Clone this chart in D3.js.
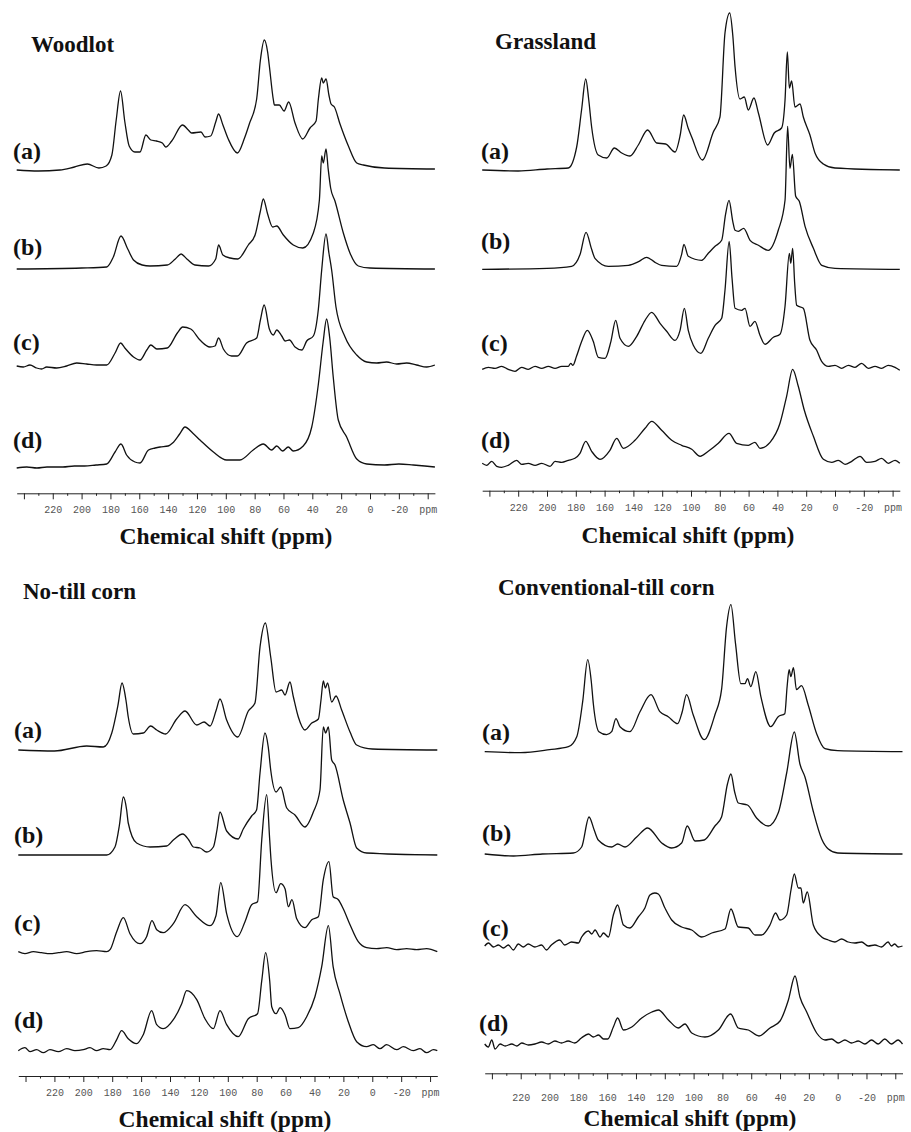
<!DOCTYPE html>
<html>
<head>
<meta charset="utf-8">
<script src="https://cdn.jsdelivr.net/npm/d3@7"></script>
<style>
  body { margin: 0; background: #fff; }
  svg { display: block; }
  .title, .lab, .xtitle { font-family: "Liberation Serif", "Times New Roman", serif; font-weight: bold; fill: #111; }
  .axis text { font-family: "Liberation Mono", "Courier New", monospace; font-size: 10px; fill: #555; }
  .axis path, .axis line { stroke: #222; }
</style>
</head>
<body>
<script>
// panel titles and trace labels
const panelTitles = ["Woodlot", "Grassland", "No-till corn", "Conventional-till corn"];
const traceLabels = ["(a)", "(b)", "(c)", "(d)"];
const axisTitle = "Chemical shift (ppm)";

// ppm ticks
const majorTicks = [240, 220, 200, 180, 160, 140, 120, 100, 80, 60, 40, 20, 0, -20, -40];
const minorTicks = [230, 210, 190, 170, 150, 130, 110, 90, 70, 50, 30, 10, -10, -30];
const tickLabels = ["", "220", "200", "180", "160", "140", "120", "100", "80", "60", "40", "20", "0", "-20", "ppm"];

// spectra, [ppm, intensity]
const woodlotA = [[245,0],[230,-1],[215,0],[205,3],[196,6],[188,2],[183,4],[179,15],[176,50],[173,79],[170,48],[167,24],[163,18],[159.5,18],[155.4,35],[152,30],[148,29],[144,27],[141.7,23],[137.5,29],[130,45],[126,40],[123.7,37],[117.2,38],[114.4,33],[110.5,34],[107,48],[105,56],[102,45],[98.3,31],[92,17],[87,32],[83.7,46],[78.6,71],[76,110],[73.3,130],[71,118],[69.8,104],[67,70],[66.3,65],[62.9,65],[59.6,59],[56.4,68],[52,47],[46.6,31],[41.6,42],[37.4,49],[35.8,71],[33.5,92],[32.4,87],[30.5,91],[28.5,75],[27,66],[24.7,63],[20.8,46],[15,24],[9.2,7],[4.6,5],[-10,2],[-45,1]];
const woodlotB = [[245,0],[200,1],[182.6,2],[178,12],[172.7,33],[168,20],[164,9],[158,4],[152.6,3],[140.6,4],[135,10],[131,15],[127,10],[121.4,4],[112,3],[107,10],[105,24],[102,14],[97,11],[91.7,10],[84.4,24],[79.7,34],[76,58],[74,70],[71,55],[67.5,42],[64.7,43],[60.1,34],[53.2,24],[46.6,21],[39.3,36],[35.1,69],[33.5,113],[32.4,106],[30.5,120],[29,100],[27.3,81],[24.3,68],[18.5,36],[13.9,16],[8.1,3],[0,1],[-45,0]];
const woodlotC = [[245,-1],[240.4,-2],[235.8,0],[231.2,-3],[227.7,-4],[224.2,-2],[217.3,-3],[210.4,-1],[203.4,2],[196.5,1],[189.6,0],[182.6,0],[176.8,12],[172.9,22],[170,17],[164,8],[159.5,5],[154.8,15],[152,20],[147.8,16],[140.6,17],[133.6,32],[129.9,38],[124.3,36],[117.9,25],[111,18],[107.5,19],[105,27],[101.7,16],[96,9],[92,9],[85.6,22],[78.6,27],[76,45],[73.4,60],[69.8,36],[67,30],[64.7,35],[61.2,29],[58.9,24],[55.9,25],[52,18],[47.3,15],[43.9,24],[39.3,29],[35.8,56],[33.5,95],[30.5,131],[28.5,112],[26.6,95],[23.6,58],[17.3,28],[9.2,10],[2.3,3],[-4.6,2],[-11.5,3],[-18.5,1],[-25.4,2],[-32.3,0],[-39.3,-2],[-45,0]];
const woodlotD = [[245,-1],[238,0],[231,-1],[224,0],[213,0],[205,1],[198,1],[190,2],[182.6,3],[176.8,15],[172.7,23],[168.8,12],[163,5],[159.5,4],[153.6,17],[149,19],[145.6,20],[140,21],[136.9,24],[132,33],[128.3,40],[123,34],[117.9,27],[108.6,15],[99.4,7],[90.2,7],[81,17],[74,23],[68.2,17],[64.7,21],[60.6,16],[56.7,20],[53.2,16],[46.3,21],[40.4,40],[35.8,83],[32.5,125],[30.1,148],[28,130],[25.5,90],[22,47],[16.2,30],[9.2,8],[2.3,3],[-10,2],[-20,3],[-30,2],[-38,1],[-45,0]];

const grassA = [[245,0],[220,-1],[200,1],[185.2,2],[179.4,23],[176,60],[173.1,91],[171,70],[169,43],[164.4,15],[158.5,12],[153.2,22],[148.1,17],[142.4,14],[136.6,25],[130.1,40],[123.8,27],[117.6,26],[111.1,18],[107.5,35],[105.1,55],[102,42],[99.5,33],[92.1,10],[84.5,38],[79.9,53],[76.4,137],[73.1,157],[71,135],[69.4,103],[66,71],[63,73],[60.2,60],[56.3,72],[53.2,57],[46.8,25],[42.2,37],[37.1,42],[34.7,70],[33.1,118],[31.7,82],[30.1,89],[27.8,63],[24.3,66],[22,53],[17.4,35],[13.9,17],[8.1,6],[0,2],[-45,0]];
const grassB = [[245,0],[200,1],[182.9,3],[177,15],[172.9,37],[169,20],[166.7,11],[157.4,3],[143.5,4],[136,8],[130.8,12],[125,7],[120.4,4],[110,3],[106.5,15],[104.9,25],[101.9,13],[92.6,9],[88,16],[83.3,23],[78.7,29],[76,55],[73.6,69],[71,48],[69.4,39],[67.1,38],[63.4,41],[59,29],[53.2,24],[46.3,19],[39.4,39],[34.7,69],[32.9,143],[31.3,101],[29.6,115],[27.3,73],[24.8,68],[20.8,43],[15,21],[9.2,4],[0,1],[-45,0]];
const grassC = [[245,-1],[240.7,1],[236.1,0],[231.5,2],[226.9,-1],[222.2,-3],[217.6,1],[213,-1],[208.3,2],[203.7,0],[199.1,2],[194.4,0],[189.8,2],[185.2,2],[183.5,5],[182,3],[179.5,12],[175.9,27],[172,38],[167.9,27],[164.4,11],[159.7,10],[155.6,27],[152.3,48],[149.3,30],[143.5,22],[137.7,32],[131.9,48],[127.3,56],[121.5,45],[116.9,37],[111.1,28],[107.6,38],[104.6,60],[101.9,38],[98.4,23],[93.1,15],[88,30],[83.3,43],[78.7,50],[76.4,78],[73.5,127],[71.5,90],[69.4,60],[64.8,58],[62.5,60],[59,42],[55.6,47],[52.1,33],[48.6,24],[42.8,31],[38.2,34],[34.7,62],[31.7,115],[30.7,105],[29.4,120],[28,85],[26.6,63],[22,60],[17.4,28],[12.7,18],[9.3,7],[4.6,2],[0,3],[-4.6,0],[-9.3,3],[-13.9,1],[-18.5,5],[-23.1,0],[-27.8,2],[-32.4,0],[-37,3],[-41.7,1],[-45,-2]];
const grassD = [[245,0],[241.9,-2],[238.4,2],[234.9,-3],[231.5,-4],[226.9,-2],[221.1,3],[217.6,-1],[213,0],[208.3,-2],[203.7,0],[197.9,-3],[194.4,2],[189.8,1],[185.2,3],[180.6,5],[177.1,10],[173.1,22],[169,12],[163.2,4],[156.3,13],[151.6,25],[147,15],[138.9,23],[131.9,35],[127.3,42],[120.4,33],[113.4,23],[106.5,18],[99.5,14],[93.7,7],[88,12],[81,20],[73.6,30],[68.3,20],[60.2,18],[55.6,21],[52.1,15],[45.1,21],[38.2,40],[33.6,67],[29.4,94],[25.5,77],[21.3,53],[15,27],[8.1,4],[2.3,1],[-2.3,3],[-7,-1],[-11.6,2],[-17.4,7],[-22,1],[-27.8,2],[-32.4,5],[-37,0],[-41.7,3],[-45,0]];

const notillA = [[245,0],[220,-1],[197.7,4],[186.2,3],[180.3,17],[176,45],[173.2,67],[170.5,50],[168.9,33],[165.4,16],[158.5,17],[153.4,24],[149.2,20],[143,16],[135.4,31],[129.6,39],[121.5,25],[116.4,28],[112.3,24],[108,40],[105.4,51],[100.8,30],[93.1,13],[85.8,39],[81.2,47],[77.7,103],[74,127],[70.3,93],[66.6,58],[62.7,60],[60.4,55],[57,68],[54.6,53],[51.2,33],[46.6,20],[41.9,27],[37.3,31],[35.5,50],[33.9,69],[32.5,62],[30.9,67],[28.1,48],[25.1,54],[21.2,40],[15.4,18],[10.8,5],[0,1],[-45,0]];
const notillB = [[245,0],[211.6,0],[183.8,0],[178.1,8],[175,30],[172.3,58],[170,45],[168.9,32],[163.1,12],[153.8,8],[142.3,9],[137.7,15],[131.2,21],[127,15],[123.9,8],[119.2,7],[114.6,3],[110,8],[107.5,25],[105.4,43],[100.8,24],[92.8,16],[89.3,26],[83.5,39],[80.1,45],[77.7,82],[74.3,122],[72,108],[70.3,85],[66.6,63],[63.4,68],[59.2,47],[53.5,40],[46.6,28],[40.8,43],[36.2,65],[33.9,128],[32.3,122],[30.4,128],[28.1,95],[25.8,90],[20.1,55],[15.4,32],[10.8,7],[3.9,2],[-45,0]];
const notillC = [[245,0],[240.4,-2],[234.6,0],[228.9,-1],[223.1,-2],[217.3,-1],[211.5,0],[204.6,-2],[197.7,0],[190.8,1],[183.8,0],[181.5,2],[176.9,20],[172.3,34],[167.7,18],[160.8,8],[156.2,15],[152.5,31],[149.2,22],[144.7,19],[137.7,28],[129.6,47],[121.5,35],[112.3,26],[108.2,36],[104.9,69],[100.8,38],[93.4,15],[88.1,30],[83.5,47],[79.4,50],[76.5,112],[73.1,157],[71,112],[70.1,92],[66.6,59],[63.4,68],[60.4,63],[58.1,45],[55.6,52],[52.3,33],[46.6,24],[41.9,32],[37.3,35],[33.9,72],[30,90],[27.1,55],[23.5,52],[20.1,43],[15.4,27],[9.7,10],[3.9,4],[-3,3],[-10,4],[-16.9,2],[-23.8,3],[-30.7,2],[-37.6,3],[-45,0]];
const notillD = [[245,0],[240.4,3],[236.9,-1],[232.3,1],[227.7,-2],[223.1,1],[217.3,-1],[211.5,2],[205.8,0],[200,1],[195.4,3],[190.8,0],[186.2,2],[181.5,1],[176.9,11],[173.5,20],[168.9,12],[163.1,7],[158.5,16],[152.7,40],[149.2,26],[144.7,22],[137.7,31],[131.9,47],[128.5,60],[121.5,51],[115.8,32],[110,22],[105.4,40],[100.8,26],[92.8,14],[85.8,32],[79.4,37],[76.5,70],[73.8,98],[71,70],[69.6,44],[66.6,37],[63.8,43],[60.4,36],[57,22],[51.2,23],[45.4,34],[39.7,54],[35,84],[30.4,125],[27.1,84],[22.4,57],[16.6,29],[10.8,9],[3.9,4],[-0.7,6],[-5.3,2],[-9.9,6],[-16.9,1],[-21.5,4],[-28.4,0],[-33,2],[-37.6,-2],[-42.3,1],[-45,0]];

const convA = [[245,0],[220,-1],[200,2],[186.9,5],[181.1,15],[177,50],[173.5,92],[171,70],[169.6,48],[165.7,20],[160.3,17],[156.9,20],[153.9,33],[151.1,25],[144.2,20],[137.2,40],[129.6,57],[123.4,40],[117.6,35],[111.1,28],[107.9,40],[104.9,57],[100.3,37],[92.6,12],[85.2,37],[80.6,62],[77.1,125],[74.1,147],[70.9,108],[67.2,68],[64.4,68],[62.6,73],[60.3,65],[56.8,80],[53.3,55],[46.4,25],[41.3,35],[36.7,38],[35.1,65],[33.7,82],[32.5,75],[30.7,84],[28.6,62],[25.1,66],[20.5,47],[14.6,18],[8.8,3],[0,1],[-45,0]];
const convB = [[245,0],[225,-2],[205,0],[183.5,1],[177.7,7],[172.6,37],[169,24],[166.2,14],[156.9,7],[152.7,10],[147.6,7],[139.5,17],[131.9,26],[122.1,11],[115.2,6],[108.3,11],[104.4,28],[99,13],[92.6,14],[85.2,28],[80.6,37],[76.5,70],[74.1,80],[71.5,62],[69,51],[62.6,49],[56.3,36],[48.2,28],[41.3,41],[35.4,81],[30.1,122],[26.2,90],[22.7,77],[17,43],[11.1,15],[6.5,5],[0,1],[-45,0]];
const convC = [[245,0],[242.4,3],[238.9,-1],[235.5,1],[232,-2],[228.6,1],[225.1,-4],[221.7,2],[218.2,-1],[214.8,2],[210.2,-1],[205.5,1],[202.1,-4],[198.7,1],[192.9,6],[189.5,1],[184.7,4],[180,3],[177.7,9],[173,15],[170.7,12],[168.4,16],[164.9,9],[162.6,13],[159.1,9],[155.7,31],[152.7,41],[148.7,21],[144.2,18],[138.4,29],[133.8,38],[130.3,51],[126.9,53],[124.5,52],[119.9,38],[115.2,26],[108.3,19],[101.3,16],[94.4,9],[87.4,13],[78.2,17],[74.1,37],[69,19],[62,18],[57.4,11],[52.8,11],[47,21],[43.1,33],[40,26],[35.4,31],[32.4,56],[30.1,72],[27.3,58],[25.5,58],[23.9,43],[21.1,54],[16.9,21],[11.1,9],[6.5,6],[1.9,4],[-2.7,7],[-7.3,4],[-12,3],[-16.6,4],[-21.2,0],[-25.8,1],[-30.4,-1],[-35,4],[-37.3,0],[-39.6,2],[-42,-1],[-45,0]];
const convD = [[245,0],[242.5,-3],[240.1,4],[237.8,-5],[234.3,0],[230.8,-2],[226.2,0],[222.7,-2],[219.3,1],[214.7,-1],[210.1,0],[205.5,2],[200.9,0],[196.3,3],[191.7,1],[187.1,3],[182.5,1],[177.9,6],[173,10],[169.6,7],[166,9],[162.5,5],[159.6,5],[155.7,17],[152.7,26],[148.7,14],[142.9,17],[136,26],[129,32],[124.5,34],[117.5,24],[110.6,16],[106,20],[101.3,11],[92.1,7],[82.8,14],[74.3,30],[69,16],[62,14],[54.6,8],[47,16],[40,23],[34.2,44],[29.6,68],[26.2,47],[21.5,32],[14.6,11],[8.8,4],[4.2,5],[-0.4,1],[-5,4],[-9.6,1],[-14.3,3],[-18.9,0],[-23.5,4],[-28.1,0],[-32.7,5],[-37.3,0],[-41.9,4],[-45,0]];

const spectra = [
  [woodlotA, woodlotB, woodlotC, woodlotD],
  [grassA, grassB, grassC, grassD],
  [notillA, notillB, notillC, notillD],
  [convA, convB, convC, convD]
];

// layout of the four panels (pixels)
const layout = [
  { left: 16.7, right: 434.9, titleX: 31, titleY: 52, axisY: 493.3, pad: 7, xtX: 226, xtY: 544,
    base: [170, 269, 365, 467], labX: [13, 13, 13, 13], labY: [159, 255, 350, 448] },
  { left: 482.2, right: 899.8, titleX: 495, titleY: 49, axisY: 490.7, pad: 7, xtX: 688, xtY: 543,
    base: [170, 269.3, 368.3, 463.3], labX: [481, 481, 481, 481], labY: [159, 249, 351, 448] },
  { left: 18.3, right: 437.3, titleX: 23, titleY: 599, axisY: 1076, pad: 7, xtX: 225, xtY: 1127,
    base: [750, 855, 951.7, 1050.7], labX: [14, 14, 14, 14], labY: [738, 843, 931, 1028] },
  { left: 484.7, right: 902.5, titleX: 498, titleY: 595, axisY: 1073.3, pad: 15, xtX: 690, xtY: 1125.5,
    base: [751.7, 854, 946, 1044], labX: [482, 482, 482, 479], labY: [740, 841, 936, 1031] }
];

const svg = d3.select("body").append("svg").attr("width", 911).attr("height", 1132);

// intensity -> upward pixels
const y = d3.scaleLinear().domain([0, 160]).range([0, -160]);

layout.forEach((p, i) => {
  const x = d3.scaleLinear().domain([245, -45]).range([p.left, p.right]);
  const g = svg.append("g");

  g.append("text").attr("class", "title")
    .attr("x", p.titleX).attr("y", p.titleY)
    .style("font-size", "23px")
    .text(panelTitles[i]);

  const line = d3.line()
    .x(d => x(d[0]))
    .y(d => y(d[1]))
    .curve(d3.curveMonotoneX);

  spectra[i].forEach((s, j) => {
    g.append("path")
      .attr("transform", `translate(0,${p.base[j]})`)
      .attr("d", line(s))
      .attr("fill", "none")
      .attr("stroke", "#111")
      .attr("stroke-width", 1.3)
      .attr("stroke-linejoin", "round");

    g.append("text").attr("class", "lab")
      .attr("x", p.labX[j]).attr("y", p.labY[j])
      .style("font-size", "24px")
      .text(traceLabels[j]);
  });

  // major ticks with labels
  g.append("g").attr("class", "axis")
    .attr("transform", `translate(0,${p.axisY})`)
    .call(d3.axisBottom(x).tickValues(majorTicks).tickSize(6).tickSizeOuter(0)
      .tickPadding(p.pad).tickFormat((d, k) => tickLabels[k]));

  // minor ticks
  const minor = g.append("g").attr("class", "axis")
    .attr("transform", `translate(0,${p.axisY})`)
    .call(d3.axisBottom(x).tickValues(minorTicks).tickSize(2.5).tickSizeOuter(0).tickFormat(""));
  minor.select(".domain").remove();

  g.append("text").attr("class", "xtitle")
    .attr("x", p.xtX).attr("y", p.xtY)
    .attr("text-anchor", "middle")
    .style("font-size", "23.5px")
    .text(axisTitle);
});
</script>
</body>
</html>
